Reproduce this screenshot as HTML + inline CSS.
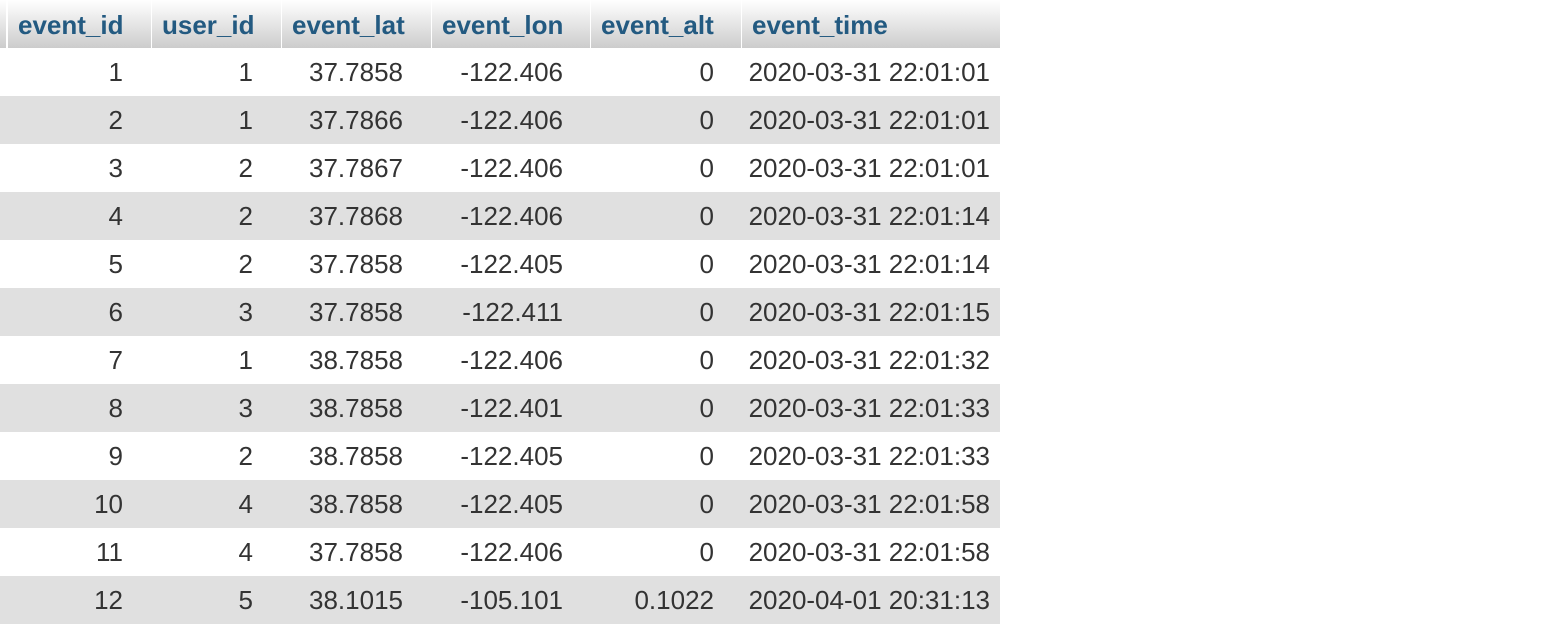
<!DOCTYPE html>
<html><head><meta charset="utf-8"><style>
html,body{margin:0;padding:0;background:#fff;width:1542px;height:632px;overflow:hidden;font-family:"Liberation Sans",Arial,sans-serif}
.t{position:absolute;left:0;top:0;width:1000px}
.hdr{position:absolute;top:0;height:48px;background:linear-gradient(#fff,#ccc);color:#235a81;font-weight:bold;font-size:26px;line-height:50px;box-sizing:border-box;padding-left:10px;white-space:nowrap;overflow:hidden}
.row{position:absolute;left:0;width:1000px;height:48px}
.c{position:absolute;top:0;height:48px;line-height:48px;font-size:26px;color:#333;text-align:right;box-sizing:border-box;white-space:nowrap}
</style></head><body>
<div class="t" id="tbl"></div>
<script>
const headers=["event_id","user_id","event_lat","event_lon","event_alt","event_time"];
const ids=[1,2,3,4,5,6,7,8,9,10,11,12];
const users=[1,1,2,2,2,3,1,3,2,4,4,5];
const lats=["37.7858","37.7866","37.7867","37.7868","37.7858","37.7858","38.7858","38.7858","38.7858","38.7858","37.7858","38.1015"];
const lons=["-122.406","-122.406","-122.406","-122.406","-122.405","-122.411","-122.406","-122.401","-122.405","-122.405","-122.406","-105.101"];
const alts=["0","0","0","0","0","0","0","0","0","0","0","0.1022"];
const times=["2020-03-31 22:01:01","2020-03-31 22:01:01","2020-03-31 22:01:01","2020-03-31 22:01:14","2020-03-31 22:01:14","2020-03-31 22:01:15","2020-03-31 22:01:32","2020-03-31 22:01:33","2020-03-31 22:01:33","2020-03-31 22:01:58","2020-03-31 22:01:58","2020-04-01 20:31:13"];
const colL=[7,151,281,431,590,741], colR=[151,281,431,590,741,1000], padR=[28,28,28,27,27,10];
const tbl=document.getElementById('tbl');
const hs=document.createElement('div');
hs.style.cssText='position:absolute;left:0;top:0;width:6px;height:48px;background:linear-gradient(#fff,#ccc)';


tbl.appendChild(hs);
headers.forEach((h,i)=>{
  const d=document.createElement('div');d.className='hdr';
  d.style.left=(colL[i]+1)+'px';d.style.width=(colR[i]-colL[i]-1)+'px';
  d.textContent=h;
  
  
  tbl.appendChild(d);
});
ids.forEach((id,r)=>{
  const row=document.createElement('div');row.className='row';
  row.style.top=(48+r*48)+'px';row.style.background=r%2?'#e0e0e0':'#fff';
  
  
  const vals=[id,users[r],lats[r],lons[r],alts[r],times[r]];
  vals.forEach((v,i)=>{
    const c=document.createElement('div');c.className='c';
    c.style.left=colL[i]+'px';c.style.width=(colR[i]-colL[i])+'px';c.style.paddingRight=padR[i]+'px';
    c.textContent=v;
    
    
    row.appendChild(c);
  });
  tbl.appendChild(row);
});
</script>
</body></html>
